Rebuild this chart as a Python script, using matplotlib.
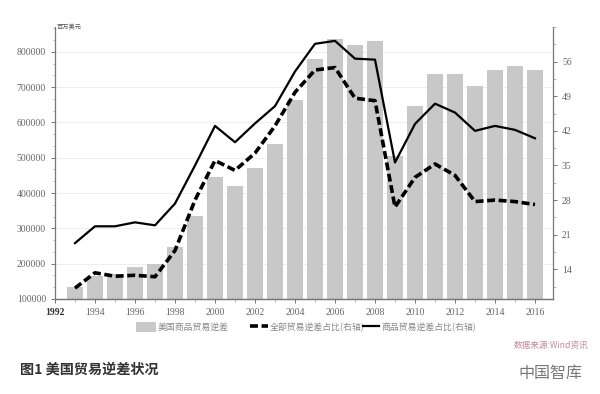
import matplotlib
matplotlib.use("Agg")
import matplotlib.pyplot as plt
from matplotlib.ticker import AutoMinorLocator, MultipleLocator
from matplotlib.patches import Patch
from matplotlib.lines import Line2D

plt.rcParams['font.family'] = ['Noto Sans CJK SC', 'DejaVu Sans']

# data
years = list(range(1993, 2017))
goods_deficit = [134000, 164000, 172000, 191000, 198000, 247000, 336000, 445000,
                 421000, 472000, 539000, 664000, 780000, 835000, 820000, 831000,
                 505000, 646000, 737000, 738000, 702000, 749000, 760000, 749000]
total_share = [10.2, 13.3, 12.6, 12.8, 12.5, 17.8, 28.0, 36.0, 34.0, 37.5, 43.0, 49.8,
               54.3, 54.8, 48.6, 48.1, 26.6, 32.6, 35.3, 33.0, 27.7, 28.0, 27.7, 27.1]
goods_share = [19.3, 22.7, 22.7, 23.5, 22.9, 27.3, 35.0, 43.0, 39.7, 43.5, 47.0, 54.0,
               59.6, 60.2, 56.6, 56.4, 35.6, 43.4, 47.5, 45.7, 42.0, 43.0, 42.2, 40.5]
xticks = list(range(1992, 2017, 2))
left_ticks = [100000, 200000, 300000, 400000, 500000, 600000, 700000, 800000]
right_ticks = [14, 21, 28, 35, 42, 49, 56]

tick_color = '#666666'
serif = ['Liberation Serif', 'DejaVu Serif']
dash = (2.2, 1.0)

fig = plt.figure(figsize=(6, 3.94), dpi=100)
ax = fig.add_axes([55 / 600, 1 - 299 / 394, 498 / 600, 272 / 394])

ax.bar(years, goods_deficit, width=0.8, color='#c8c8c8', zorder=2)
ax.set_ylim(100000, 870000)
ax.set_xlim(1992, 2016.9)
ax.set_yticks(left_ticks)
ax.yaxis.set_minor_locator(AutoMinorLocator(3))
ax.set_xticks(xticks)
ax.xaxis.set_minor_locator(MultipleLocator(1))
ax.grid(axis='y', color='#eeeeee', linewidth=0.8, zorder=0)
ax.set_axisbelow(True)

ax2 = ax.twinx()
ax2.plot(years, total_share, color='black', linewidth=2.6, dashes=dash, zorder=3)
ax2.plot(years, goods_share, color='black', linewidth=1.6, zorder=3)
ax2.set_ylim(8, 63)
ax2.set_yticks(right_ticks)
ax2.yaxis.set_minor_locator(AutoMinorLocator(2))

for a in (ax, ax2):
    a.spines['top'].set_visible(False)
    for s in a.spines.values():
        s.set_color('#777777')
        s.set_linewidth(0.9)
    a.tick_params(which='major', length=3, width=0.7, colors='#777777',
                  labelcolor=tick_color, labelsize=7)
    a.tick_params(which='minor', length=1.8, width=0.5, colors='#999999')
    for lab in a.get_xticklabels() + a.get_yticklabels():
        lab.set_family(serif)
ax2.spines['left'].set_visible(False)
ax.spines['right'].set_visible(False)
ax.get_xticklabels()[0].set_fontweight('bold')
ax.get_xticklabels()[0].set_color('#333333')

fig.text(57 / 600, 1 - 27 / 394, '百万美元', fontsize=4.5, color='#555555',
         va='center', ha='left')

# legend: one entry per legend so each sits where it does in the reference
handles = [Patch(facecolor='#c8c8c8', edgecolor='none'),
           Line2D([], [], color='black', linewidth=2.6, dashes=dash),
           Line2D([], [], color='black', linewidth=1.6)]
labels = ['美国商品贸易逆差', '全部贸易逆差占比(右轴)', '商品贸易逆差占比(右轴)']
lefts = [136, 250, 363]
hlens = [2.2, 2.0, 1.8]
for h, lab, x0, hl in zip(handles, labels, lefts, hlens):
    leg = fig.legend([h], [lab], loc='center left', bbox_to_anchor=(x0 / 600, 1 - 327 / 394),
                     frameon=False, fontsize=6.4, handlelength=hl, handleheight=1.4,
                     handletextpad=0.25, borderaxespad=0, borderpad=0)
    leg.get_texts()[0].set_color('#888888')

fig.text(588 / 600, 1 - 345 / 394, '数据来源:Wind资讯', fontsize=6.2, color='#c48a98',
         ha='right', va='center', style='italic')
fig.text(20 / 600, 1 - 370 / 394, '图1 美国贸易逆差状况', fontsize=10.2,
         fontweight='bold', color='#333333', ha='left', va='center')
fig.text(582 / 600, 1 - 373 / 394, '中国智库', fontsize=11.5, color='#777777',
         ha='right', va='center')

fig.savefig('out.png', dpi=100, facecolor='white')
